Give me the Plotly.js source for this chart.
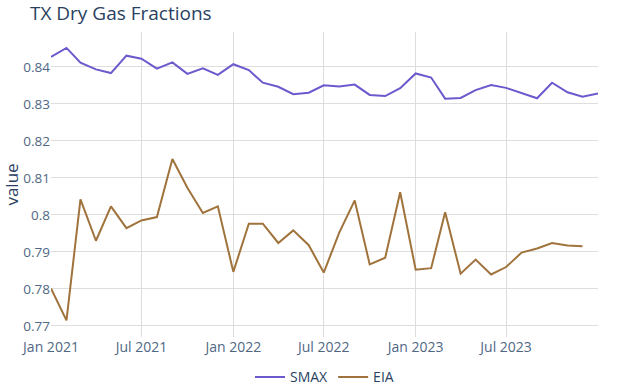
<!DOCTYPE html>
<html>
<head>
<meta charset="utf-8">
<script src="https://cdn.plot.ly/plotly-3.0.1.min.js"></script>
<style>html,body{margin:0;padding:0;background:#fff;}#chart{width:624px;height:392px;}</style>
</head>
<body>
<div id="chart"></div>
<script>
const smaxDates = ["2021-01-01","2021-02-01","2021-03-01","2021-04-01","2021-05-01","2021-06-01","2021-07-01","2021-08-01","2021-09-01","2021-10-01","2021-11-01","2021-12-01",
  "2022-01-01","2022-02-01","2022-03-01","2022-04-01","2022-05-01","2022-06-01","2022-07-01","2022-08-01","2022-09-01","2022-10-01","2022-11-01","2022-12-01",
  "2023-01-01","2023-02-01","2023-03-01","2023-04-01","2023-05-01","2023-06-01","2023-07-01","2023-08-01","2023-09-01","2023-10-01","2023-11-01","2023-12-01","2024-01-01"];
const smaxValues = [0.8427,0.8451,0.8411,0.8393,0.8383,0.8430,0.8422,0.8395,0.8412,0.8381,0.8396,0.8378,
  0.8407,0.8391,0.8357,0.8346,0.8326,0.8330,0.8350,0.8347,0.8352,0.8324,0.8321,0.8342,
  0.8382,0.8371,0.8314,0.8316,0.8337,0.8351,0.8343,0.8328,0.8315,0.8357,0.8331,0.8319,0.8328];
const eiaDates = smaxDates.slice(0, 36);
const eiaValues = [0.7801,0.7715,0.8042,0.7930,0.8023,0.7964,0.7985,0.7994,0.8151,0.8073,0.8005,0.8023,
  0.7846,0.7976,0.7976,0.7924,0.7958,0.7918,0.7844,0.7952,0.8039,0.7866,0.7884,0.8061,
  0.7852,0.7856,0.8007,0.7841,0.7879,0.7839,0.7859,0.7898,0.7909,0.7924,0.7917,0.7915];

const traces = [
  {x: smaxDates, y: smaxValues, name: "SMAX", type: "scatter", mode: "lines", line: {color: "#6a5acd", width: 2}},
  {x: eiaDates, y: eiaValues, name: "EIA", type: "scatter", mode: "lines", line: {color: "#a0733c", width: 2}}
];
const layout = {
  width: 624, height: 392,
  font: {family: "'Open Sans', verdana, arial, sans-serif", color: "#2a3f5f", size: 14},
  title: {text: "TX Dry Gas Fractions", x: 0.048, xanchor: "left", y: 0.966, yanchor: "middle", font: {size: 19, color: "#2a3f5f"}},
  paper_bgcolor: "#fff", plot_bgcolor: "#fff",
  margin: {l: 51, r: 26, t: 32, b: 55, autoexpand: false},
  xaxis: {type: "date", range: ["2021-01-01", "2024-01-01"], dtick: "M6", tick0: "2021-01-01", tickformat: "%b %Y",
    showgrid: true, gridcolor: "#dedede", zeroline: false, showline: false, tickfont: {size: 14, color: "#506784"}},
  yaxis: {range: [0.7670, 0.8494], dtick: 0.01, tick0: 0.77, showgrid: true, gridcolor: "#dedede", zeroline: false,
    title: {text: "value", font: {size: 17, color: "#2a3f5f"}, standoff: 6}, tickfont: {size: 13.5, color: "#506784"}},
  legend: {orientation: "h", x: 0.5, xanchor: "center", y: -0.08, yanchor: "top", font: {size: 14, color: "#2a3f5f"}},
  showlegend: true
};
Plotly.newPlot("chart", traces, layout, {displayModeBar: false, staticPlot: true});
</script>
</body>
</html>
